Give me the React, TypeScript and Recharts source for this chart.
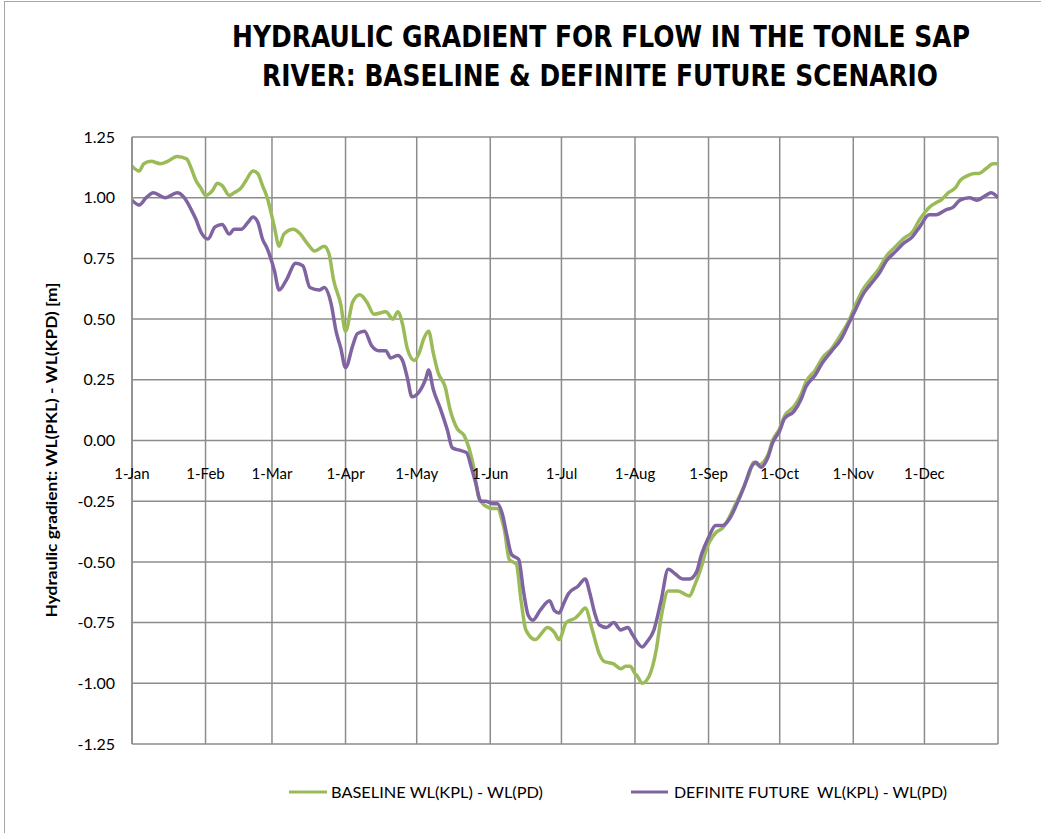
import { CartesianGrid, Line, LineChart, XAxis, YAxis } from 'recharts';

// day-of-year positions of the month starts (365 closes the year)
const monthTicks = [0, 31, 59, 90, 120, 151, 181, 212, 243, 273, 304, 334, 365];
const monthLabels = ['1-Jan', '1-Feb', '1-Mar', '1-Apr', '1-May', '1-Jun', '1-Jul', '1-Aug', '1-Sep', '1-Oct', '1-Nov', '1-Dec', ''];
const yTicks = [-1.25, -1.0, -0.75, -0.5, -0.25, 0, 0.25, 0.5, 0.75, 1.0, 1.25];

const baselineDay = [
  0, 3, 5, 8, 12, 15, 19, 23, 25, 27, 29, 31, 34, 36, 38, 41, 43, 46, 48, 51, 53, 55, 57, 60, 62, 64, 68, 71, 74, 77,
  81, 83, 85, 88, 90, 93, 96, 99, 102, 107, 110, 112, 114, 116, 119, 121, 123, 125, 127, 129, 132, 134, 137, 140, 142,
  144, 146, 149, 152, 154, 156, 157, 159, 162, 164, 166, 170, 173, 175, 178, 180, 183, 187, 189, 191, 194, 197, 199,
  203, 206, 208, 210, 212, 213, 215, 218, 221, 223, 226, 230, 235, 237, 240, 242, 246, 249, 251, 254, 257, 260, 262,
  264, 266, 268, 270, 273, 275, 279, 282, 284, 288, 291, 295, 299, 302, 305, 308, 311, 315, 318, 322, 325, 329, 332,
  336, 339, 341, 344, 347, 349, 352, 355, 357, 360, 363, 365,
];
const baselineWL = [
  1.13, 1.11, 1.14, 1.15, 1.14, 1.15, 1.17, 1.16, 1.12, 1.07, 1.04, 1.01, 1.03, 1.06, 1.05, 1.01, 1.02, 1.04, 1.07, 1.11,
  1.1, 1.05, 1.0, 0.88, 0.8, 0.85, 0.87, 0.85, 0.81, 0.78, 0.8, 0.77, 0.66, 0.56, 0.45, 0.57, 0.6, 0.57, 0.52, 0.53, 0.5,
  0.53, 0.48, 0.38, 0.33, 0.36, 0.42, 0.45, 0.36, 0.28, 0.22, 0.13, 0.05, 0.02, -0.03, -0.11, -0.23, -0.27, -0.28, -0.28,
  -0.33, -0.37, -0.49, -0.51, -0.66, -0.78, -0.82, -0.79, -0.77, -0.79, -0.82, -0.75, -0.73, -0.71, -0.69, -0.78, -0.88,
  -0.91, -0.92, -0.94, -0.93, -0.93, -0.96, -0.97, -1.0, -0.97, -0.86, -0.73, -0.62, -0.62, -0.64, -0.6, -0.52, -0.45,
  -0.38, -0.36, -0.33, -0.27, -0.21, -0.14, -0.09, -0.1, -0.09, -0.06, 0.0, 0.05, 0.1, 0.14, 0.19, 0.24, 0.29, 0.34,
  0.38, 0.44, 0.49, 0.56, 0.62, 0.66, 0.71, 0.76, 0.8, 0.83, 0.86, 0.91, 0.96, 0.98, 0.99, 1.02, 1.04, 1.07, 1.09, 1.1,
  1.1, 1.12, 1.14, 1.14,
];

const futureDay = [
  0, 3, 6, 9, 14, 19, 22, 25, 27, 29, 32, 35, 38, 41, 43, 46, 49, 51, 53, 55, 57, 60, 62, 65, 69, 72, 75, 79, 81, 84, 86,
  88, 90, 93, 95, 98, 101, 104, 107, 109, 112, 114, 116, 118, 121, 124, 125, 127, 130, 133, 135, 138, 141, 143, 145, 147,
  149, 152, 154, 156, 158, 160, 163, 165, 167, 169, 172, 176, 178, 180, 182, 184, 188, 191, 193, 195, 197, 200, 203,
  206, 209, 211, 215, 217, 220, 223, 226, 229, 232, 235, 238, 240, 243, 246, 249, 252, 255, 258, 261, 263, 265, 268,
  270, 273, 275, 279, 282, 284, 288, 291, 295, 299, 302, 305, 308, 311, 315, 318, 322, 325, 329, 332, 336, 339, 343,
  346, 349, 353, 356, 360, 362, 365,
];
const futureWL = [
  0.99, 0.97, 1.0, 1.02, 1.0, 1.02, 1.0, 0.95, 0.91, 0.86, 0.83, 0.88, 0.89, 0.85, 0.87, 0.87, 0.9, 0.92, 0.9, 0.83, 0.79,
  0.7, 0.62, 0.66, 0.73, 0.72, 0.63, 0.62, 0.63, 0.56, 0.45, 0.38, 0.3, 0.39, 0.44, 0.45, 0.39, 0.37, 0.37, 0.34, 0.35,
  0.33, 0.26, 0.18, 0.2, 0.26, 0.29, 0.21, 0.13, 0.04, -0.03, -0.04, -0.05, -0.11, -0.18, -0.25, -0.25, -0.26, -0.26,
  -0.3, -0.39, -0.47, -0.49, -0.62, -0.72, -0.74, -0.7, -0.66, -0.7, -0.71, -0.67, -0.63, -0.6, -0.57, -0.63, -0.71,
  -0.76, -0.77, -0.75, -0.78, -0.77, -0.8, -0.85, -0.83, -0.78, -0.66, -0.53, -0.55, -0.57, -0.57, -0.54, -0.47, -0.4,
  -0.35, -0.35, -0.32, -0.26, -0.19, -0.11, -0.09, -0.11, -0.07, -0.01, 0.04, 0.09, 0.12, 0.17, 0.22, 0.27, 0.32, 0.37,
  0.42, 0.48, 0.54, 0.6, 0.64, 0.69, 0.74, 0.78, 0.81, 0.84, 0.88, 0.93, 0.93, 0.95, 0.96, 0.99, 1.0, 0.99, 1.01, 1.02,
  1.0,
];

const baselineData = baselineDay.map((day, i) => ({ day, wl: baselineWL[i] }));
const futureData = futureDay.map((day, i) => ({ day, wl: futureWL[i] }));

const W = 1041;
const H = 833;
const TOP = 137;
const BOTTOM = 744;
const ZERO_Y = TOP + (BOTTOM - TOP) / 2;
const GREEN = '#9bbb59';
const PURPLE = '#8064a2';
const GRID = '#8c8c8c';
const FONT = 'Lato, "Open Sans", sans-serif';

function MonthTick(props: any) {
  const { x, payload } = props;
  const label = monthLabels[monthTicks.indexOf(payload.value)];
  return (
    <text x={x} y={ZERO_Y + 32} textAnchor="middle" dominantBaseline="central" fontSize={15} fontFamily={FONT} fill="#000">
      {label}
    </text>
  );
}

export default function App() {
  return (
    <div style={{ position: 'absolute', left: 0, top: 0, width: W, height: H, background: '#fff', overflow: 'hidden' }}>
      <div style={{ position: 'absolute', left: 4, top: 1, right: -2, bottom: -2, borderTop: '1px solid #a6a6a6', borderLeft: '1px solid #a6a6a6' }} />
      <LineChart width={W} height={H} margin={{ top: TOP, right: 43, bottom: H - BOTTOM - 1, left: 72 }}>
        <CartesianGrid stroke={GRID} strokeWidth={1.5} />
        <XAxis
          type="number"
          dataKey="day"
          domain={[0, 365]}
          ticks={monthTicks}
          interval={0}
          height={1}
          axisLine={false}
          tickLine={false}
          tick={<MonthTick />}
          allowDataOverflow
        />
        <YAxis
          type="number"
          domain={[-1.25, 1.25]}
          ticks={yTicks}
          interval={0}
          width={60}
          axisLine={{ stroke: GRID, strokeWidth: 1.5 }}
          tickLine={false}
          tickMargin={11}
          tickFormatter={(v: number) => v.toFixed(2)}
          tick={{ fill: '#000', fontSize: 16, fontFamily: FONT }}
          allowDataOverflow
        />
        <Line data={baselineData} dataKey="wl" type="monotone" stroke={GREEN} strokeWidth={3.5} dot={false} isAnimationActive={false} />
        <Line data={futureData} dataKey="wl" type="monotone" stroke={PURPLE} strokeWidth={3.5} dot={false} isAnimationActive={false} />
      </LineChart>
      <svg width={W} height={H} style={{ position: 'absolute', left: 0, top: 0, pointerEvents: 'none' }}>
        <g fontFamily={'"Liberation Sans Narrow", "DejaVu Sans Condensed", ' + FONT} fontWeight="bold" fill="#000" fontSize={30}>
          <text x={601} y={47} textAnchor="middle" textLength={738} lengthAdjust="spacingAndGlyphs">
            HYDRAULIC GRADIENT FOR FLOW IN THE TONLE SAP
          </text>
          <text x={600} y={86} textAnchor="middle" textLength={676} lengthAdjust="spacingAndGlyphs">
            RIVER: BASELINE &amp; DEFINITE FUTURE SCENARIO
          </text>
        </g>
        <text
          transform={`translate(57, 450) rotate(-90)`}
          textAnchor="middle"
          fontFamily={FONT}
          fontWeight="bold"
          fontSize={15}
          fill="#000"
          textLength={335}
          lengthAdjust="spacingAndGlyphs"
        >
          Hydraulic gradient: WL(PKL) - WL(KPD) [m]
        </text>
        <g fontFamily={FONT} fontSize={15} fill="#000">
          <line x1={289} y1={792} x2={327} y2={792} stroke={GREEN} strokeWidth={3} />
          <text x={331} y={797.5} textLength={212} lengthAdjust="spacingAndGlyphs">
            BASELINE WL(KPL) - WL(PD)
          </text>
          <line x1={631} y1={792} x2={668} y2={792} stroke={PURPLE} strokeWidth={3} />
          <text x={674} y={797.5} textLength={273} lengthAdjust="spacingAndGlyphs" style={{ whiteSpace: 'pre' }}>
            DEFINITE FUTURE  WL(KPL) - WL(PD)
          </text>
        </g>
      </svg>
    </div>
  );
}
